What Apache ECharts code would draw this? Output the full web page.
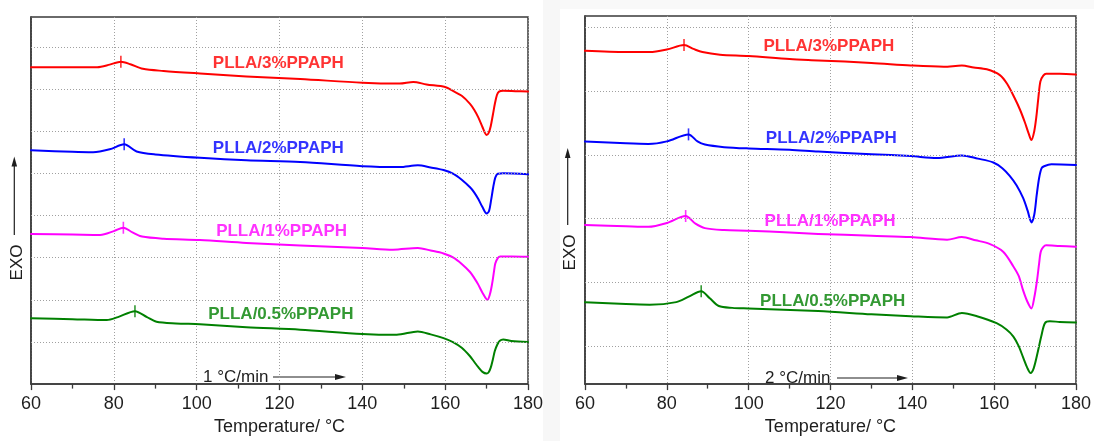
<!DOCTYPE html>
<html>
<head>
<meta charset="utf-8">
<title>DSC heating curves of PLLA/PPAPH</title>
<script src="https://cdn.jsdelivr.net/npm/echarts@6/dist/echarts.min.js"></script>
<style>
  html, body { margin: 0; padding: 0; background: #ffffff; }
  #chart { width: 1094px; height: 441px; }
</style>
</head>
<body>
<div id="chart"></div>
<script>
// Sample names, top curve first
const SAMPLES = ['PLLA/3%PPAPH', 'PLLA/2%PPAPH', 'PLLA/1%PPAPH', 'PLLA/0.5%PPAPH'];

// Heating rates of the two panels
const RATES = ['1 °C/min', '2 °C/min'];

// Heat flow (offset, one unit per dotted division) vs temperature (°C), 1 °C/min
const DSC_1C_3 = [[60,7.52],[70,7.52],[76,7.52],[79,7.58],[81.7,7.65],[84,7.59],[87,7.48],[92,7.43],[100.8,7.37],[112,7.30],[125,7.24],[140,7.15],[149,7.13],[152.3,7.17],[155.5,7.11],[160,7.05],[162,6.95],[164,6.84],[166,6.65],[167,6.51],[168,6.33],[169,6.10],[169.6,5.96],[170,5.91],[170.5,5.96],[171,6.12],[171.5,6.38],[172,6.65],[172.5,6.86],[173,6.94],[174,6.96],[177,6.95],[180,6.94]];
const DSC_1C_2 = [[60,5.55],[70,5.51],[75,5.50],[79,5.57],[82.5,5.69],[85.5,5.52],[90,5.45],[100.8,5.37],[112,5.31],[125,5.27],[140,5.17],[149,5.15],[153.4,5.19],[156.5,5.14],[159.6,5.08],[162,4.99],[164,4.85],[166,4.67],[167,4.55],[168,4.39],[169,4.20],[170,4.05],[170.6,4.11],[171.1,4.37],[171.6,4.67],[172.1,4.90],[172.7,4.99],[174,5.00],[180,4.98]];
const DSC_1C_1 = [[60,3.56],[70,3.55],[76.7,3.54],[80,3.63],[82.3,3.71],[84.5,3.60],[86.8,3.50],[92,3.45],[100.8,3.42],[112,3.35],[125,3.29],[140,3.23],[147.4,3.19],[153.4,3.23],[156.5,3.17],[159.6,3.10],[162,3.00],[164,2.85],[166,2.66],[167,2.52],[168,2.36],[169,2.17],[170.2,2.00],[170.8,2.13],[171.3,2.36],[171.8,2.68],[172.1,2.86],[172.7,2.99],[173.3,3.03],[176,3.03],[180,3.02]];
const DSC_1C_05 = [[60,1.56],[70,1.54],[78.3,1.52],[81,1.59],[85.1,1.73],[88,1.59],[90.3,1.48],[95,1.44],[100.8,1.42],[112,1.35],[125,1.29],[140,1.19],[148.3,1.17],[153.4,1.25],[156.5,1.18],[159.6,1.09],[162,0.99],[164,0.86],[166,0.66],[167,0.53],[168,0.40],[169,0.29],[170,0.25],[170.5,0.28],[171,0.39],[171.5,0.58],[172,0.79],[172.6,0.94],[173.2,1.03],[174,1.06],[176,1.02],[180,1.00]];

// Heat flow (offset) vs temperature (°C), 2 °C/min
const DSC_2C_3 = [[60,4.63],[70,4.61],[75.8,4.61],[80,4.65],[84.2,4.72],[86.5,4.66],[88.7,4.61],[93,4.57],[100,4.55],[110,4.50],[117,4.48],[130,4.44],[139.6,4.40],[147.7,4.38],[152.1,4.40],[155,4.37],[158.2,4.34],[161.4,4.25],[163.2,4.11],[165,3.89],[166.3,3.71],[167.5,3.51],[168.4,3.34],[169.1,3.23],[169.8,3.37],[170.3,3.59],[170.8,3.89],[171.3,4.15],[172,4.24],[172.7,4.27],[176,4.27],[180,4.26]];
const DSC_2C_2 = [[60,3.21],[70,3.18],[75.5,3.17],[80,3.21],[85.3,3.32],[87.5,3.21],[89.3,3.16],[94,3.12],[100,3.10],[110,3.08],[117,3.05],[130,3.01],[139.6,2.98],[146,2.95],[152.1,2.99],[156,2.94],[159.8,2.88],[162,2.79],[163.8,2.67],[165.5,2.52],[167.1,2.32],[168.2,2.12],[169.1,1.94],[169.8,2.06],[170.4,2.37],[171,2.64],[171.6,2.79],[172.2,2.82],[174,2.85],[180,2.84]];
const DSC_2C_1 = [[60,1.90],[70,1.88],[75.5,1.87],[80,1.93],[84.6,2.04],[87,1.92],[89.3,1.85],[94,1.82],[100,1.81],[110,1.78],[117,1.76],[130,1.73],[139.6,1.71],[148.5,1.67],[152.1,1.71],[155.5,1.66],[159,1.60],[162.2,1.48],[164.7,1.25],[166,1.10],[167.1,0.87],[168.1,0.70],[169.1,0.59],[169.8,0.76],[170.5,1.04],[171,1.30],[171.5,1.50],[172.7,1.58],[176,1.57],[180,1.56]];
const DSC_2C_05 = [[60,0.69],[70,0.66],[75.8,0.65],[82.3,0.69],[85.5,0.78],[88.4,0.86],[90.5,0.75],[92.7,0.63],[96,0.60],[100,0.59],[117,0.55],[130,0.50],[139.6,0.47],[148.5,0.45],[152.1,0.52],[155.8,0.47],[160.6,0.36],[163,0.26],[164.7,0.15],[166,0.00],[167.1,-0.18],[168.1,-0.34],[168.9,-0.42],[169.7,-0.34],[170.7,-0.08],[171.5,0.15],[172.4,0.36],[173.6,0.39],[176,0.38],[180,0.37]];

// Cold-crystallization peak positions [T, heat flow]
const PEAKS_1C = [[81.7,7.65],[82.5,5.69],[82.3,3.71],[85.1,1.73]];
const PEAKS_2C = [[84.2,4.72],[85.3,3.32],[84.6,2.04],[88.4,0.86]];

// Horizontal dotted grid levels
const GRID_Y_1C = [1, 2, 3, 4, 5, 6, 7, 8];
const GRID_Y_2C = [0, 1, 2, 3, 4, 5];

// ---- styling and layout ----
const COLORS = ['#ff0000', '#0000ff', '#ff00ff', '#008000'];
const FONT = '"Liberation Sans", Arial, Helvetica, sans-serif';
const FRAME = '#3a3a3a';
const TEXT = '#1e1e1e';

const panels = [
  { curves: [DSC_1C_3, DSC_1C_2, DSC_1C_1, DSC_1C_05], peaks: PEAKS_1C, gridY: GRID_Y_1C,
    yMin: 0, yMax: 8.71,
    grid: { left: 31, top: 17, width: 497, height: 377 },
    labelAt: [[103.9, 7.60], [103.9, 5.60], [104.7, 3.62], [102.8, 1.65]] },
  { curves: [DSC_2C_3, DSC_2C_2, DSC_2C_1, DSC_2C_05], peaks: PEAKS_2C, gridY: GRID_Y_2C,
    yMin: -0.595, yMax: 5.176,
    grid: { left: 585, top: 16, width: 495, height: 378 },
    labelAt: [[103.6, 4.70], [104.2, 3.26], [103.9, 1.95], [102.8, 0.71]] }
];

const grids = [], xAxes = [], yAxes = [], series = [];

panels.forEach((p, i) => {
  grids.push(Object.assign({
    show: true, backgroundColor: 'transparent', borderColor: FRAME, borderWidth: 1.5, containLabel: false
  }, p.grid));

  xAxes.push({
    type: 'value', gridIndex: i, min: 60, max: 180, interval: 20,
    axisLine: { show: true, onZero: false, lineStyle: { color: FRAME, width: 1.5 } },
    axisTick: { show: true, length: 6, lineStyle: { color: FRAME, width: 1.3 } },
    minorTick: { show: true, splitNumber: 2, length: 4.5, lineStyle: { color: FRAME, width: 1.3 } },
    splitLine: { show: true, lineStyle: { color: '#a0a0a0', width: 1, type: [1, 2] } },
    axisLabel: { fontSize: 18, color: TEXT, margin: 11, fontFamily: FONT },
    name: 'Temperature/ °C', nameLocation: 'middle', nameGap: 29,
    nameTextStyle: { fontSize: 18, color: TEXT, fontFamily: FONT }
  });

  yAxes.push({
    type: 'value', gridIndex: i, min: p.yMin, max: p.yMax,
    axisLine: { show: true, onZero: false, lineStyle: { color: FRAME, width: 1.5 } },
    axisTick: { show: false }, axisLabel: { show: false }, splitLine: { show: false }
  });

  // dotted horizontal grid
  series.push({
    type: 'line', xAxisIndex: i, yAxisIndex: i, data: [], z: 1, silent: true,
    markLine: {
      silent: true, symbol: 'none', label: { show: false }, animation: false,
      lineStyle: { color: '#a0a0a0', width: 1, type: [1, 2] },
      data: p.gridY.map(v => ({ yAxis: v }))
    }
  });

  p.curves.forEach((curve, k) => {
    series.push({
      name: SAMPLES[k], type: 'line', xAxisIndex: i, yAxisIndex: i, data: curve,
      showSymbol: false, smooth: 0.3, z: 3, silent: true,
      lineStyle: { color: COLORS[k], width: 2, cap: 'round', join: 'round' }
    });
  });

  // crystallization peak markers
  series.push({
    type: 'scatter', xAxisIndex: i, yAxisIndex: i, z: 4, silent: true,
    symbol: 'rect', symbolSize: [1.6, 12],
    data: p.peaks.map((pt, k) => ({ value: pt, itemStyle: { color: COLORS[k] } }))
  });

  // curve names
  series.push({
    type: 'scatter', xAxisIndex: i, yAxisIndex: i, z: 5, silent: true, symbolSize: 0,
    data: p.labelAt.map((pt, k) => ({
      value: pt, name: SAMPLES[k],
      label: { color: COLORS[k] }
    })),
    label: {
      show: true, position: 'right', distance: 0, formatter: '{b}',
      fontSize: 17, fontWeight: 'bold', fontFamily: FONT
    }
  });
});

// axis-side EXO arrows and heating-rate arrows
function exoGraphic(cx, cy, lineX, lineBottom, tipY) {
  return [
    { type: 'text', x: cx, y: cy, rotation: Math.PI / 2,
      style: { text: 'EXO', font: '17px ' + FONT, fill: TEXT, align: 'center', verticalAlign: 'middle' } },
    { type: 'line', shape: { x1: lineX, y1: lineBottom, x2: lineX, y2: tipY + 8 },
      style: { stroke: TEXT, lineWidth: 1.2 } },
    { type: 'polygon', shape: { points: [[lineX, tipY], [lineX - 2.8, tipY + 10], [lineX + 2.8, tipY + 10]] },
      style: { fill: TEXT } }
  ];
}
function rateGraphic(text, tx, y, x1, tip) {
  return [
    { type: 'text', x: tx, y: y,
      style: { text: text, font: '17px ' + FONT, fill: TEXT, align: 'left', verticalAlign: 'middle' } },
    { type: 'line', shape: { x1: x1, y1: y, x2: tip - 8, y2: y },
      style: { stroke: TEXT, lineWidth: 1.2 } },
    { type: 'polygon', shape: { points: [[tip, y], [tip - 11, y - 3], [tip - 11, y + 3]] },
      style: { fill: TEXT } }
  ];
}

const graphic = [].concat(
  [{ type: 'rect', z: -10, shape: { x: 543, y: 0, width: 17, height: 441 }, style: { fill: '#f7f7f7' } },
   { type: 'rect', z: -10, shape: { x: 560, y: 0, width: 534, height: 9 }, style: { fill: '#f9f9f9' } }],
  exoGraphic(17.5, 262.5, 14.3, 235, 156.5),
  exoGraphic(570.5, 252.5, 567.7, 225, 148),
  rateGraphic(RATES[0], 203, 377, 273, 346),
  rateGraphic(RATES[1], 765, 378, 837, 908)
);

const chart = echarts.init(document.getElementById('chart'), null, { renderer: 'canvas' });
chart.setOption({
  animation: false,
  backgroundColor: '#ffffff',
  textStyle: { fontFamily: FONT },
  grid: grids,
  xAxis: xAxes,
  yAxis: yAxes,
  series: series,
  graphic: graphic
});
</script>
</body>
</html>
